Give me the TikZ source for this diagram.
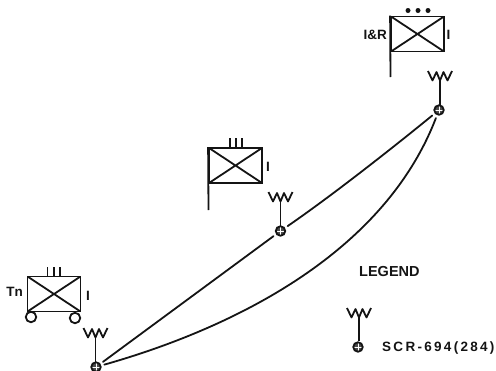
\documentclass[tikz,border=0pt]{standalone}
\usepackage{fontspec}
\setmainfont{Liberation Sans}[BoldFont={Liberation Sans Bold}]
\newfontfamily\spaced[LetterSpace=17]{Liberation Sans Bold}
\tikzset{
  x=1pt,y=-1pt,
  ink/.style={line width=1.8pt,black!92},
  unitbox/.style={ink,draw,rectangle,minimum width=53pt,minimum height=35pt,inner sep=0pt,
    path picture={\draw[ink] (path picture bounding box.north west)--(path picture bounding box.south east)
      (path picture bounding box.north east)--(path picture bounding box.south west);}},
  radio/.style={ink,draw,circle,minimum size=9.5pt,inner sep=0pt,
    path picture={\fill[black!70] (path picture bounding box.north west) rectangle (path picture bounding box.south east);
      \draw[white,line width=.6pt] (path picture bounding box.north)--(path picture bounding box.south)
      (path picture bounding box.west)--(path picture bounding box.east);}},
  wheel/.style={ink,draw,circle,minimum size=10.5pt,inner sep=0pt},
  lab/.style={inner sep=0pt,font=\fontsize{13.5}{13.5}\selectfont\bfseries,text=black!92},
  rank/.style={fill=black!92,circle,minimum size=5pt,inner sep=0pt},
  link/.style={ink,line cap=round,shorten >=3pt,shorten <=3pt},
  pics/aerial/.style={code={
    \draw[ink,line join=round] (-12,0)--(-7.5,9.5)--(-3.5,1)--(0,9.5)--(3.5,1)--(7.5,9.5)--(12,0);
    \draw[ink] (0,9.5)--(0,#1);}}
}
\begin{document}
\begin{tikzpicture}
\useasboundingbox (0,0) rectangle (496,370);
% I&R unit
\node[unitbox] (ir) at (417.5,34) {};
\coordinate (irfoot) at (390.5,77);
\draw[ink] (ir.north west)--(irfoot);
\node[rank] (d1) at (408,10.5) {};
\node[rank] (d2) at (418,10.5) {};
\node[rank] (d3) at (428,10.5) {};
\node[lab,anchor=east] (irl) at (387,34.5) {I\&R};
\node[lab] (irn) at (448.5,35) {I};
\pic at (440,71) {aerial=34};
\node[radio] (top) at (439,110) {};
% Middle unit
\node[unitbox] (mid) at (235.5,165.5) {};
\coordinate (midfoot) at (208.5,210);
\draw[ink] (mid.north west)--(midfoot);
\foreach \n/\xx in {a/230,b/236,c/242}{\coordinate (m\n) at (\xx,138); \draw[ink] (m\n)--(\xx,148);}
\node[lab] (midn) at (268,167) {I};
\pic at (280.5,192) {aerial=34};
\node[radio] (md) at (280.5,231) {};
% Tn unit
\node[unitbox] (tn) at (54,294) {};
\foreach \n/\xx in {a/47.5,b/54,c/60}{\coordinate (t\n) at (\xx,267); \draw[ink] (t\n)--(\xx,277);}
\node[wheel] (w1) at (31,317) {};
\node[wheel] (w2) at (75,318) {};
\node[lab,anchor=east] (tnl) at (23,292) {Tn};
\node[lab] (tnn) at (88,295.5) {I};
\pic at (95.5,328) {aerial=34};
\node[radio] (low) at (96,367) {};
% Net
\draw[link] (low)--(md);
\draw[link] (md) .. controls (330,197) and (390,150) .. (top);
\draw[link] (low) .. controls (235,327.5) and (384,253) .. (top);
% Legend
\node[lab,anchor=west,font=\fontsize{14.5}{14.5}\selectfont\bfseries] (leg) at (359,272) {LEGEND};
\pic at (359,308) {aerial=33};
\node[radio] (key) at (358,347) {};
\node[lab,anchor=west] (keyl) at (382,348) {\spaced SCR-694(284)};
\end{tikzpicture}
\end{document}
